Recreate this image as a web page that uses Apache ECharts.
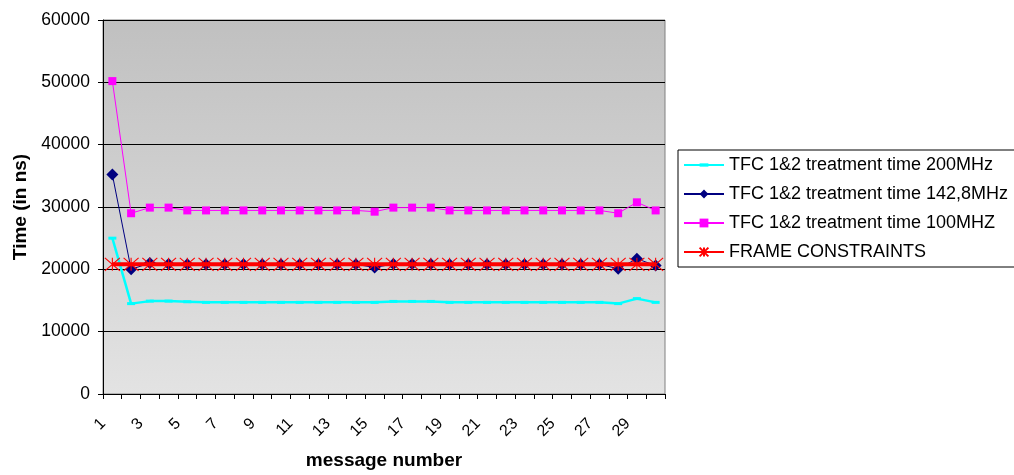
<!DOCTYPE html>
<html><head><meta charset="utf-8">
<script src="https://cdn.jsdelivr.net/npm/echarts@6/dist/echarts.min.js"></script>
<style>html,body{margin:0;padding:0;background:#fff}#c{width:1014px;height:475px}</style>
</head><body><div id="c"></div>
<script>
const categories = ['1','2','3','4','5','6','7','8','9','10','11','12','13','14','15','16','17','18','19','20','21','22','23','24','25','26','27','28','29','30'];
const seriesNames = ['TFC 1&2 treatment time 200MHz','TFC 1&2 treatment time 142,8MHz','TFC 1&2 treatment time 100MHZ','FRAME CONSTRAINTS'];
const t200 = [25000,14500,14900,14900,14800,14700,14700,14700,14700,14700,14700,14700,14700,14700,14700,14850,14850,14850,14700,14700,14700,14700,14700,14700,14700,14700,14700,14500,15300,14700];
const t142 = [35200,20000,21000,20850,20800,20800,20800,20800,20800,20800,20800,20800,20800,20800,20300,20850,20850,20850,20800,20800,20800,20800,20800,20800,20800,20800,20800,20100,21700,20600];
const t100 = [50200,29000,29900,29900,29450,29450,29450,29450,29450,29450,29450,29450,29450,29450,29250,29900,29900,29900,29450,29450,29450,29450,29450,29450,29450,29450,29450,29000,30750,29450];
const frame = [20800,20800,20800,20800,20800,20800,20800,20800,20800,20800,20800,20800,20800,20800,20800,20800,20800,20800,20800,20800,20800,20800,20800,20800,20800,20800,20800,20800,20800,20800];
const yTicks = {min:0, max:60000, interval:10000};

const font = 'Liberation Sans, Arial, sans-serif';
const chart = echarts.init(document.getElementById('c'), null, {renderer:'canvas'});
chart.setOption({
  animation:false,
  backgroundColor:'#ffffff',
  grid:{left:103,right:349,top:20,bottom:76,show:true,borderColor:'#808080',borderWidth:1,
    backgroundColor:new echarts.graphic.LinearGradient(0,0,0,1,[{offset:0,color:'#c0c0c0'},{offset:1,color:'#e3e3e3'}])},
  legend:{orient:'vertical',left:678,top:150,data:seriesNames,
    borderColor:'#000',borderWidth:1,padding:[6,30,6,5],
    itemWidth:40,itemHeight:11,itemGap:11,symbolKeepAspect:true,
    textStyle:{fontFamily:font,fontSize:18,color:'#000',lineHeight:17,padding:[0,0,0,0]}},
  xAxis:{type:'category',data:categories,boundaryGap:true,
    name:'message number',nameLocation:'middle',nameGap:57,
    nameTextStyle:{fontFamily:font,fontSize:19,fontWeight:'bold',color:'#000'},
    axisLine:{lineStyle:{color:'#000',width:1}},
    axisTick:{show:true,interval:0,length:5,lineStyle:{color:'#000'}},
    axisLabel:{interval:1,rotate:45,margin:18,padding:[0,13,0,0],fontFamily:font,fontSize:16,color:'#000'},
    splitLine:{show:false}},
  yAxis:{type:'value',min:yTicks.min,max:yTicks.max,interval:yTicks.interval,
    name:'Time (in ns)',nameLocation:'middle',nameGap:73,
    nameTextStyle:{fontFamily:font,fontSize:19,fontWeight:'bold',color:'#000'},
    axisLine:{show:true,lineStyle:{color:'#000',width:1}},
    axisTick:{show:true,length:5,lineStyle:{color:'#000'}},
    axisLabel:{margin:13,fontFamily:font,fontSize:17.5,color:'#000',formatter:function(v){return String(v);}},
    splitLine:{show:true,lineStyle:{color:'#000',width:1}}},
  series:[
    {name:seriesNames[0],type:'line',data:t200,showAllSymbol:true,symbolKeepAspect:true,
      symbol:'path://M0,-2.5L0,-2.5M0,0L8,0L8,3L0,3ZM0,5.5L0,5.5',symbolSize:8,
      lineStyle:{color:'#00ffff',width:2.5},itemStyle:{color:'#00ffff'},z:2},
    {name:seriesNames[1],type:'line',data:t142,showAllSymbol:true,symbol:'diamond',symbolSize:12,
      lineStyle:{color:'#000080',width:1},itemStyle:{color:'#000080'},z:3},
    {name:seriesNames[2],type:'line',data:t100,showAllSymbol:true,symbol:'rect',symbolSize:8,
      lineStyle:{color:'#ff00ff',width:1},itemStyle:{color:'#ff00ff'},z:4},
    {name:seriesNames[3],type:'line',data:frame,showAllSymbol:true,
      symbol:'path://M0,0L14,12M14,0L0,12M7,0L7,12',symbolSize:[15,13],
      lineStyle:{color:'#ff0000',width:4},itemStyle:{color:'none',borderColor:'#ff0000',borderWidth:1},z:5}
  ]
});
</script></body></html>
